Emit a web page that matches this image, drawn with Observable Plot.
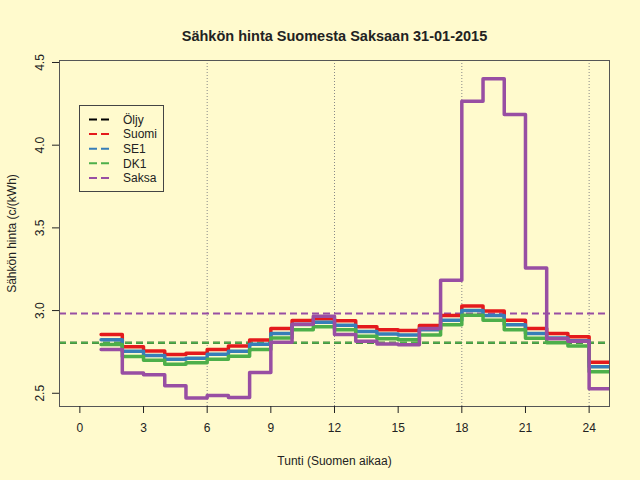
<!DOCTYPE html>
<html><head><meta charset="utf-8">
<script src="https://cdn.jsdelivr.net/npm/d3@7"></script>
<script src="https://cdn.jsdelivr.net/npm/@observablehq/plot@0.6"></script>
<style>
html,body{margin:0;padding:0;background:#FFFACD;}
#wrap{position:relative;width:640px;height:480px;font-family:"Liberation Sans",Arial,sans-serif;}
#legend{position:absolute;left:79px;top:105px;}
</style></head><body><div id="wrap"></div>
<script>
const title = "Sähkön hinta Suomesta Saksaan 31-01-2015";
const xLabel = "Tunti (Suomen aikaa)";
const yLabel = "Sähkön hinta (c/(kWh)";
const hours = [1,2,3,4,5,6,7,8,9,10,11,12,13,14,15,16,17,18,19,20,21,22,23,24];
const suomi = [2.856,2.782,2.756,2.734,2.742,2.764,2.786,2.822,2.892,2.940,2.950,2.938,2.902,2.884,2.880,2.910,2.970,3.028,2.998,2.942,2.892,2.862,2.842,2.688];
const se1   = [2.823,2.754,2.728,2.706,2.712,2.736,2.754,2.796,2.862,2.916,2.930,2.912,2.874,2.858,2.852,2.884,2.942,3.000,2.970,2.914,2.862,2.834,2.818,2.660];
const dk1   = [2.795,2.722,2.700,2.676,2.684,2.706,2.724,2.764,2.834,2.884,2.902,2.884,2.844,2.830,2.824,2.852,2.914,2.972,2.942,2.884,2.832,2.806,2.786,2.630];
const saksa = [2.764,2.622,2.612,2.546,2.472,2.486,2.474,2.626,2.808,2.918,2.965,2.856,2.814,2.798,2.794,2.892,3.184,4.266,4.401,4.185,3.258,2.830,2.815,2.528];
const seriesNames = ["Suomi","SE1","DK1","Saksa"];
const seriesColors = ["#E41A1C","#377EB8","#4DAF4A","#984EA3"];
const refNames = ["Öljy","DK1","Saksa"];
const refValues = [2.806,2.806,2.982];
const refColors = ["#000000","#4DAF4A","#984EA3"];
const legendNames = ["Öljy","Suomi","SE1","DK1","Saksa"];
const legendColors = ["#000000","#E41A1C","#377EB8","#4DAF4A","#984EA3"];
const xTicks = [0,3,6,9,12,15,18,21,24];
const yTicks = [2.5,3.0,3.5,4.0,4.5];
const gridHours = [6,12,18,24];

const seriesValues = [suomi, se1, dk1, saksa];
const stepData = [];
seriesNames.forEach((name,si)=>{
  const vals = seriesValues[si];
  hours.forEach((h,i)=>stepData.push({series:name,color:seriesColors[si],hour:h,value:vals[i]}));
  stepData.push({series:name,color:seriesColors[si],hour:hours[hours.length-1]+1,value:vals[vals.length-1]});
});
const refData = refNames.map((n,i)=>({name:n,value:refValues[i],color:refColors[i]}));

const chart = Plot.plot({
  width:640, height:480,
  marginLeft:59, marginRight:31, marginTop:60, marginBottom:74,
  style:{background:"transparent", fontFamily:"Liberation Sans, Arial, sans-serif", fontSize:"12px", color:"#222"},
  x:{domain:[-0.96,24.96]},
  y:{domain:[2.42,4.512]},
  color:{type:"identity"},
  marks:[
    Plot.ruleX(gridHours,{stroke:"#888",strokeDasharray:"1,2",strokeWidth:1}),
    Plot.ruleY(refData,{y:"value",stroke:"color",strokeDasharray:"7,4",strokeWidth:2}),
    Plot.line(stepData,{x:"hour",y:"value",z:"series",stroke:"color",curve:"step-after",strokeWidth:3.5,clip:true}),
    Plot.frame({stroke:"#555"}),
    Plot.axisX({ticks:xTicks,tickSize:7,tickPadding:10,label:xLabel,labelAnchor:"center",labelArrow:"none",labelOffset:58}),
    Plot.axisY({ticks:yTicks,tickSize:7,tickPadding:9,tickRotate:-90,tickFormat:d=>d.toFixed(1),label:yLabel,labelAnchor:"center",labelArrow:"none",labelOffset:52}),
    Plot.text([title],{frameAnchor:"top",dy:-30,fontWeight:"bold",fontSize:14.5,fill:"#222"})
  ]
});
const wrap = document.getElementById("wrap");
wrap.appendChild(chart);

// legend
const lg = d3.select(wrap).append("svg").attr("id","legend").attr("width",85).attr("height",87);
lg.append("rect").attr("x",0.5).attr("y",0.5).attr("width",84).attr("height",86).attr("fill","#FFFACD").attr("stroke","#444");
legendNames.forEach((n,i)=>{
  const y = 14.5 + i*14.6;
  lg.append("line").attr("x1",10).attr("x2",30).attr("y1",y).attr("y2",y).attr("stroke",legendColors[i]).attr("stroke-width",2).attr("stroke-dasharray","8,4");
  lg.append("text").attr("x",44).attr("y",y).attr("dy","0.35em").attr("font-size",12).attr("fill","#222").attr("font-family","Liberation Sans, Arial, sans-serif").text(n);
});
</script>
</body></html>
